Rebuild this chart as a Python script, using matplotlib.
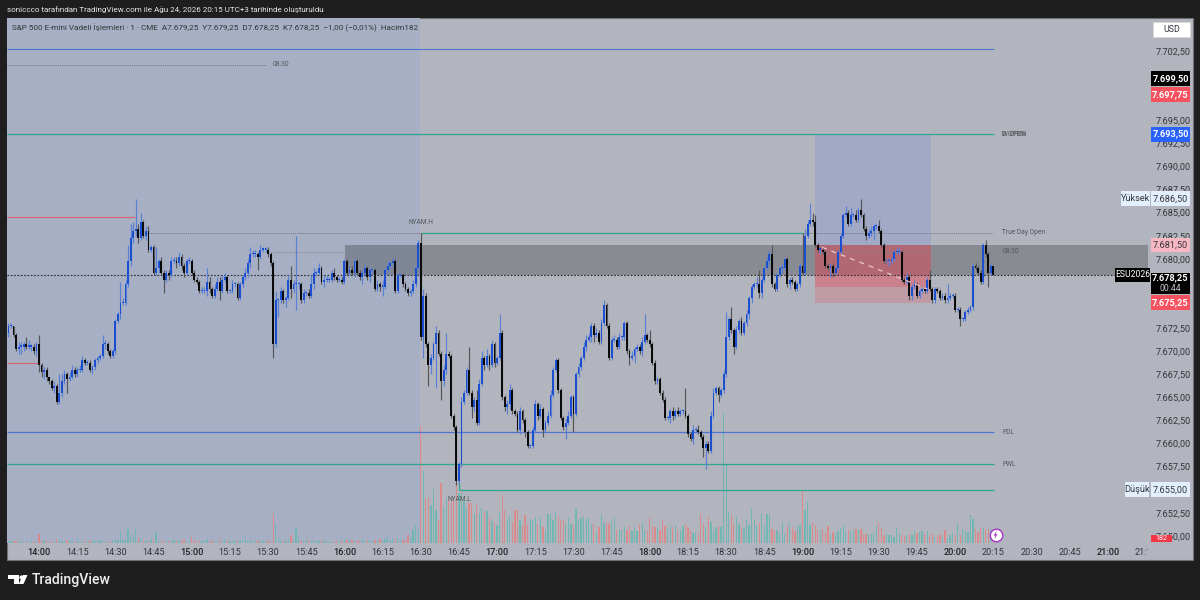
import matplotlib
matplotlib.use('Agg')
import matplotlib.pyplot as plt
import numpy as np
from matplotlib.lines import Line2D
from matplotlib.patches import Polygon, Rectangle
from matplotlib.transforms import Bbox, IdentityTransform

plt.rcParams['font.family'] = ['Roboto', 'DejaVu Sans']

# minutes after 14:00
first_minute = -12
first_open = 7672.0

closes = [
    7672.75, 7672.75, 7671.75, 7670.25, 7670.5, 7670.5, 7670.75, 7670.5, 7670.5, 7670.5,
    7670.0, 7670.75, 7668.5, 7667.75, 7668.0, 7667.25, 7666.75, 7666.0, 7666.25, 7664.5,
    7665.5, 7666.75, 7667.5, 7667.0, 7667.25, 7668.0, 7667.5, 7668.0, 7668.0, 7669.0,
    7668.75, 7668.75, 7668.0, 7668.25, 7669.0, 7669.25, 7669.5, 7670.75, 7670.75, 7670.0,
    7669.5, 7670.0, 7673.25, 7674.0, 7675.25, 7675.25, 7677.25, 7679.75, 7682.25, 7683.0,
    7683.25, 7682.25, 7684.0, 7682.5, 7683.0, 7681.0, 7681.25, 7678.5, 7679.0, 7679.75,
    7678.5, 7677.75, 7678.5, 7678.25, 7679.75, 7679.75, 7679.5, 7680.25, 7679.25, 7678.5,
    7679.75, 7679.75, 7678.5, 7677.75, 7677.5, 7676.5, 7676.5, 7676.5, 7677.5, 7676.75,
    7676.0, 7676.75, 7677.5, 7676.5, 7677.75, 7678.0, 7676.5, 7676.5, 7677.25, 7677.25,
    7675.75, 7677.25, 7678.0, 7678.5, 7679.5, 7680.5, 7680.5, 7680.5, 7680.25, 7681.0,
    7681.0, 7681.0, 7680.5, 7679.5, 7670.75, 7675.5, 7675.5, 7676.5, 7675.5, 7675.75,
    7677.75, 7676.75, 7677.25, 7677.25, 7677.25, 7675.5, 7676.25, 7676.25, 7676.0, 7677.25,
    7678.5, 7678.5, 7679.0, 7677.5, 7677.75, 7677.75, 7677.75, 7678.5, 7678.0, 7677.75,
    7677.75, 7677.5, 7679.75, 7678.5, 7678.75, 7678.5, 7679.75, 7678.5, 7678.0, 7678.5,
    7679.0, 7678.0, 7678.75, 7678.75, 7676.75, 7677.25, 7677.0, 7677.0, 7678.75, 7679.25,
    7679.5, 7679.75, 7676.5, 7678.25, 7678.25, 7677.25, 7676.75, 7676.25, 7676.5, 7677.25,
    7679.0, 7681.75, 7671.5, 7676.0, 7670.75, 7668.5, 7669.25, 7670.75, 7672.0, 7669.75,
    7666.75, 7668.0, 7669.75, 7669.5, 7663.0, 7661.75, 7656.0, 7657.75, 7664.5, 7665.5,
    7668.0, 7665.5, 7664.0, 7664.75, 7662.25, 7666.5, 7669.25, 7668.5, 7669.5, 7668.5,
    7670.75, 7668.75, 7669.25, 7672.0, 7665.0, 7664.0, 7664.25, 7665.75, 7663.5, 7663.25,
    7661.5, 7663.5, 7662.5, 7661.25, 7659.75, 7659.75, 7661.5, 7664.25, 7663.0, 7663.75,
    7661.5, 7662.25, 7663.0, 7665.25, 7668.0, 7669.0, 7665.75, 7662.75, 7661.75, 7662.25,
    7663.0, 7665.0, 7663.25, 7667.5, 7668.25, 7669.25, 7670.5, 7671.25, 7671.5, 7672.75,
    7671.75, 7672.0, 7671.0, 7673.0, 7675.0, 7672.75, 7669.25, 7671.25, 7671.25, 7670.5,
    7671.5, 7671.5, 7673.0, 7670.0, 7669.25, 7669.5, 7670.25, 7670.5, 7670.0, 7671.0,
    7671.75, 7671.25, 7670.75, 7668.75, 7666.75, 7667.0, 7665.5, 7664.75, 7662.75, 7662.75,
    7663.5, 7663.0, 7663.5, 7663.25, 7663.5, 7663.5, 7663.0, 7661.0, 7660.5, 7661.5,
    7661.5, 7661.25, 7660.75, 7659.5, 7660.0, 7659.25, 7663.0, 7665.5, 7666.0, 7665.25,
    7665.75, 7667.5, 7671.5, 7673.5, 7672.25, 7670.5, 7672.25, 7673.25, 7672.0, 7673.0,
    7674.0, 7675.75, 7677.0, 7677.25, 7677.25, 7676.25, 7677.75, 7679.0, 7679.75, 7680.5,
    7677.25, 7676.75, 7678.25, 7679.0, 7679.0, 7680.0, 7677.25, 7677.75, 7677.5, 7676.75,
    7677.25, 7679.25, 7678.5, 7682.5, 7683.75, 7684.25, 7684.0, 7681.5, 7681.0, 7681.0,
    7680.75, 7679.25, 7679.0, 7679.25, 7678.5, 7679.0, 7680.75, 7682.5, 7684.75, 7685.0,
    7683.75, 7684.75, 7684.75, 7684.25, 7685.25, 7684.75, 7683.25, 7682.5, 7682.75, 7683.0,
    7683.5, 7683.5, 7683.0, 7681.5, 7679.75, 7679.75, 7679.75, 7680.0, 7680.75, 7680.75,
    7680.75, 7677.75, 7677.5, 7678.0, 7676.0, 7677.0, 7677.25, 7676.0, 7676.5, 7676.75,
    7676.5, 7677.75, 7676.75, 7675.5, 7676.75, 7676.5, 7675.75, 7676.0, 7675.5, 7675.75,
    7676.0, 7676.0, 7674.5, 7674.5, 7673.5, 7673.5, 7674.25, 7674.5, 7674.75, 7679.25,
    7679.0, 7678.5, 7677.5, 7681.5, 7680.5, 7678.5, 7679.25, 7678.25,
]

wick_up = [
    .25, .25, 0, .25, .5, .5, .25, .75, .75, .25,
    .25, .25, 1.0, .25, .25, .25, 0, .25, .5, .25,
    2.0, .75, .5, .25, .5, .5, .25, .25, .5, .5,
    .25, .25, .25, .25, .25, .25, .25, 1.0, .5, .25,
    .25, .25, .25, .25, 2.25, .5, .5, 1.75, 1.5, 1.0,
    3.25, .5, 1.0, .25, .5, .5, .25, .25, 2.25, .25,
    .5, .25, .25, .25, .5, .5, .5, .5, .25, .25,
    .25, .5, .25, .25, .25, .25, .5, .5, 1.5, .5,
    .25, .5, .5, .5, .5, .5, .25, .25, .5, .25,
    .25, .25, .25, .5, .5, .75, .5, .5, .25, .5,
    .25, .25, .25, .25, .25, 1.0, .25, .5, .25, .25,
    .5, 1.5, .5, 5.25, .25, .25, .5, .25, .5, 1.0,
    .5, .25, .5, .25, .5, .5, .25, .25, .5, .25,
    .25, .25, .25, .25, .5, .5, .25, .25, .25, .25,
    .5, .25, .25, .25, .25, .5, .25, .75, .25, .5,
    .25, .5, .25, .25, .25, .25, .25, .25, .25, .5,
    .25, .25, 1.0, .75, .25, .25, .5, .25, .75, .25,
    .25, .5, 2.25, .25, .25, .25, .25, .25, .5, .25,
    .25, 2.5, .25, .25, 1.0, .5, .75, .25, .75, .25,
    .5, .25, .25, 2.0, .25, .25, .5, .75, .25, .25,
    .25, .5, .25, .25, .25, .25, .25, .5, .25, .5,
    .25, .25, .5, .5, .25, .25, .25, .25, .25, .5,
    .5, .25, .25, .25, .5, .25, .5, .5, .5, .25,
    .25, .5, .25, .5, .5, .25, .25, .25, .5, .25,
    .5, .25, .25, .25, .25, .5, .25, .25, .25, .5,
    2.25, .25, 1.0, .25, .25, .25, .25, .25, .25, .25,
    .25, .5, .25, .5, .25, .25, 2.5, .25, .25, .5,
    .25, .5, .25, .25, .25, .25, .5, .5, .25, .25,
    .25, .5, 2.75, .25, 1.25, .25, .5, .25, .5, .25,
    .5, .25, .25, .25, .75, 1.5, .25, .25, .5, .5,
    1.0, .25, .25, .25, .5, .25, .25, .25, .25, .25,
    .25, .25, 3.5, .75, .5, 1.75, .75, .75, .25, .25,
    .25, .25, .25, .25, .25, .25, .25, .25, .25, .75,
    .25, .75, .25, .5, .25, 1.25, .25, .25, .5, .5,
    .25, .25, .75, .25, .25, .25, .25, .25, .25, .5,
    .5, .25, .25, .5, .25, .25, .5, .25, .25, .25,
    .25, .25, 1.0, .25, .25, .25, .25, .25, .25, 1.5,
    .25, .25, .25, .25, .25, .25, .25, .25, .25, .25,
    .25, .25, .25, .25, .5, .25, .25, 0,
]

wick_dn = [
    .5, .25, .25, .25, .5, .75, .5, .25, .25, .5,
    .25, .5, .75, .5, .75, .5, .25, .25, .5, .25,
    .25, .5, .25, 1.5, .25, .25, .25, .25, .25, .25,
    .25, .25, .25, .5, .25, .25, .25, .25, .5, .25,
    .25, .25, .25, .25, .5, .25, .25, .25, .5, .5,
    .5, .5, .25, .25, .5, .25, .25, .25, .25, .5,
    .25, 1.5, .25, .5, .25, .25, .5, .25, .5, .5,
    .25, .25, .25, .25, .25, .25, .25, .25, .5, .5,
    .25, .25, .25, 1.0, .25, .25, .25, .25, .25, .25,
    .25, .25, .25, .25, .5, .5, .25, .25, 1.5, .25,
    .25, .25, .25, .25, 1.5, .25, 1.75, .25, .25, .75,
    .25, 1.0, .5, 2.75, .5, .25, .25, .25, .25, .25,
    .5, .25, .25, .25, .5, .25, .25, .25, .25, .25,
    .25, .25, .25, .25, .25, .25, .5, .25, .25, .75,
    .25, .25, .5, .25, .25, .25, .5, 1.0, .25, .25,
    .25, .25, .25, .25, .25, .25, .25, .25, .25, .25,
    .25, .25, .25, 2.25, .25, 2.25, 1.0, .25, 4.75, .25,
    2.0, .5, .5, .25, .25, .25, .5, .25, .25, .25,
    .25, .25, 1.25, .5, .25, .25, .25, .5, .25, .5,
    .25, .5, .25, .25, .25, .5, .75, .5, .25, .25,
    .25, .5, .25, .5, .25, .25, .25, .25, .5, .25,
    .75, .25, .25, .25, .25, .25, .25, .25, .25, 1.25,
    .25, .25, 2.0, .25, .25, .25, .25, .5, .25, .5,
    .75, .25, .25, .25, .25, .25, .25, .25, .25, .25,
    .25, .25, .25, .25, .75, .25, .75, .25, .25, .5,
    .25, .25, .25, .25, .25, .25, .25, .25, .25, .25,
    .5, .5, .25, .25, .25, .25, .25, .25, .25, .5,
    .25, .25, .25, 1.0, 2.25, .25, .25, .25, .25, .75,
    .25, .25, .25, .25, .25, .75, .25, .25, .25, .25,
    .25, .5, .5, .25, .25, .5, .5, .25, .25, .5,
    .25, .25, .25, .25, .5, .25, .25, .5, .25, .25,
    .25, .25, .25, .25, .25, .25, .5, .25, .25, .5,
    .25, .25, .25, 1.0, .5, .25, .25, .25, .25, .25,
    .25, .25, .25, .25, .25, .25, .25, .5, .25, .25,
    1.0, .25, .25, .25, .25, .25, .5, .25, .25, .25,
    .25, .25, .25, .25, .5, .5, .25, .25, .25, .25,
    .25, .25, .25, .25, .25, .25, .25, .25, .25, .25,
    .25, .25, .25, .25, .75, .25, .25, .25, .25, .25,
    .25, .25, .25, .25, .25, 1.5, .25, 0,
]

# in lots of 50 contracts, the last bar is the 182 of the legend
volume_lots = [
    2, 2, 2, 2, 2, 2, 1, 1, 1, 3,
    1, 1, 9, 3, 3, 2, 1, 2, 2, 4,
    4, 2, 2, 3, 3, 2, 1, 3, 1, 1,
    2, 2, 2, 3, 2, 2, 3, 1, 2, 1,
    2, 3, 5, 3, 12, 3, 3, 14, 9, 6,
    14, 5, 5, 3, 2, 2, 3, 4, 10, 2,
    2, 2, 2, 2, 2, 3, 2, 3, 3, 3,
    2, 2, 6, 3, 2, 2, 2, 2, 3, 2,
    2, 2, 2, 4, 2, 4, 3, 2, 2, 2,
    3, 3, 3, 6, 2, 3, 2, 2, 2, 1,
    2, 2, 2, 2, 30, 20, 6, 2, 2, 2,
    4, 8, 2, 15, 6, 2, 3, 3, 3, 2,
    3, 2, 2, 3, 2, 2, 1, 1, 2, 2,
    2, 3, 4, 3, 3, 3, 2, 2, 3, 4,
    3, 3, 3, 3, 3, 3, 4, 3, 4, 8,
    3, 4, 4, 5, 4, 3, 3, 8, 5, 13,
    18, 13, 117, 72, 44, 45, 38, 54, 33, 23,
    60, 37, 45, 43, 42, 44, 60, 50, 50, 42,
    35, 40, 40, 30, 38, 30, 35, 30, 32, 25,
    22, 20, 18, 30, 48, 33, 24, 27, 21, 33,
    33, 23, 18, 28, 18, 24, 23, 26, 19, 26,
    16, 13, 29, 29, 23, 32, 26, 23, 24, 19,
    25, 19, 18, 34, 23, 25, 27, 24, 26, 19,
    19, 11, 16, 29, 20, 20, 19, 22, 25, 13,
    13, 13, 16, 13, 17, 12, 16, 12, 19, 21,
    13, 12, 25, 17, 16, 16, 13, 23, 17, 14,
    18, 16, 18, 13, 13, 17, 19, 16, 12, 10,
    11, 9, 29, 19, 16, 27, 21, 12, 16, 17,
    16, 131, 78, 31, 28, 19, 26, 19, 16, 14,
    24, 18, 35, 24, 18, 20, 29, 18, 29, 29,
    14, 13, 13, 10, 21, 9, 17, 21, 16, 12,
    17, 18, 52, 33, 41, 18, 21, 18, 13, 13,
    14, 10, 17, 8, 11, 9, 12, 15, 18, 12,
    13, 11, 13, 14, 13, 14, 9, 9, 9, 9,
    10, 17, 20, 16, 8, 9, 8, 8, 6, 15,
    10, 8, 7, 8, 9, 8, 12, 10, 11, 12,
    9, 12, 8, 9, 6, 8, 8, 6, 13, 5,
    8, 10, 8, 20, 8, 14, 12, 11, 28, 24,
    14, 11, 16, 15, 14, 14, 14, 3.6,
]

time_labels = ['14:00', '14:15', '14:30', '14:45', '15:00', '15:15', '15:30', '15:45',
               '16:00', '16:15', '16:30', '16:45', '17:00', '17:15', '17:30', '17:45',
               '18:00', '18:15', '18:30', '18:45', '19:00', '19:15', '19:30', '19:45',
               '20:00', '20:15', '20:30', '20:45', '21:00', '21:15']

# scale values hidden behind the price tags are left out
price_ticks = [7650, 7652.5, 7657.5, 7660, 7662.5, 7665, 7667.5, 7670, 7672.5, 7680, 7682.5,
               7685, 7687.5, 7690, 7692.5, 7695, 7700, 7702.5]

BLUE_LINE = '#4f74d2'
TEAL_LINE = '#2fa58f'
RED_LINE = '#d9606d'

PX_X0, PX_X1, PX_Y0, PX_Y1 = 7, 1148, 18, 542.7


def fx(x):
    return x / 1200


def fy(y):
    return 1 - y / 600


def axx(x):
    return (x - PX_X0) / (PX_X1 - PX_X0)


def price_label(p):
    whole = int(p)
    return f'{whole // 1000}.{whole % 1000:03d},{int(round((p - whole) * 100)):02d}'


opens = np.array([first_open] + closes[:-1])
closes = np.array(closes)
highs = np.maximum(opens, closes) + np.array(wick_up)
lows = np.minimum(opens, closes) - np.array(wick_dn)
minutes = first_minute + np.arange(len(closes))
is_up = closes >= opens

fig = plt.figure(figsize=(12, 6), dpi=100, facecolor='#1e1e1e')
fig.add_artist(Rectangle((fx(7), fy(560)), fx(1186), 542 / 600, transform=fig.transFigure,
                         facecolor='#b2b5be', edgecolor='#6f7076', lw=0.8))

rect = [fx(PX_X0), fy(PX_Y1), fx(PX_X1 - PX_X0), (PX_Y1 - PX_Y0) / 600]
xlim = ((PX_X0 - 39) / 2.545, (PX_X1 - 39) / 2.545)

vol_ax = fig.add_axes(rect, facecolor='none', zorder=1)
vol_ax.set_xlim(xlim)
vol_ax.set_ylim(0, (PX_Y1 - PX_Y0))
vol_ax.set_xticks([])
vol_ax.set_yticks([])
for side in vol_ax.spines.values():
    side.set_visible(False)
vol_ax.axvspan(xlim[0], 149.7, color='#a6afc3', lw=0)
vol_ax.bar(minutes, volume_lots, width=0.5,
           color=['#70b6b2' if up else '#db8a8c' for up in is_up])

ax = fig.add_axes(rect, facecolor='none', zorder=2)
ax.set_xlim(xlim)
ax.set_ylim(7649.27, 7706.07)
for side in ax.spines.values():
    side.set_visible(False)

# session boxes
ax.fill_between([120.2, xlim[1]], 7678.25, 7681.5, color='black', alpha=0.23, lw=0, zorder=1)
ax.fill_between([305, 350.5], 7681.5, 7693.5, color='#7d8fd8', alpha=0.3, lw=0, zorder=1)
ax.fill_between([305, 350.5], 7675.25, 7681.5, color='#f23645', alpha=0.2, lw=0, zorder=1)
ax.fill_between([305, 350.5], 7677.0, 7681.5, color='#f23645', alpha=0.25, lw=0, zorder=1)
ax.plot([307.7, 349], [7681.25, 7676.75], color='#eec5cc', lw=0.9, ls=(0, (4, 4)), zorder=4)

# levels
ax.hlines(7702.75, xlim[0], 375.3, color=BLUE_LINE, lw=0.8, zorder=2)
ax.hlines(7701.0, xlim[0], 89, color='#77787e', lw=0.7, ls=(0, (1, 1)), zorder=2)
ax.hlines(7693.5, xlim[0], 375.3, color=TEAL_LINE, lw=0.9, zorder=2)
ax.hlines(7684.5, xlim[0], 37.7, color=RED_LINE, lw=0.8, zorder=2)
ax.hlines(7668.75, xlim[0], 0.4, color=RED_LINE, lw=0.8, zorder=2)
ax.hlines(7682.75, 37.7, 375, color='#77787e', lw=0.7, ls=(0, (1, 1)), zorder=2)
ax.hlines(7680.75, 92, 375, color='#85868c', lw=0.7, ls=(0, (1, 1)), zorder=2)
ax.hlines(7682.75, 150, 300.2, color=TEAL_LINE, lw=0.9, zorder=2)
ax.hlines(7661.25, xlim[0], 375.3, color=BLUE_LINE, lw=0.9, zorder=2)
ax.hlines(7657.75, xlim[0], 375.3, color=TEAL_LINE, lw=0.9, zorder=2)
ax.hlines(7655.0, 165, 375.3, color=TEAL_LINE, lw=0.9, zorder=2)
ax.vlines(165, 7655.0, 7656.0, color=TEAL_LINE, lw=0.9, zorder=2)
ax.hlines(7678.25, xlim[0], 435, color='#2b2b2b', lw=0.8, ls=(0, (1.5, 1.5)), zorder=2)

# candles
wick_colors = ['#5c7fd6' if up else '#55565a' for up in is_up]
body_colors = ['#1a4fd0' if up else '#0a0a0a' for up in is_up]
ax.vlines(minutes, lows, highs, colors=wick_colors, lw=0.85, zorder=3)
body_low = np.minimum(opens, closes)
body_height = np.maximum(np.abs(closes - opens), 0.12)
ax.bar(minutes, body_height, bottom=body_low, width=0.72, color=body_colors, lw=0, zorder=3)

# drawing labels
small = dict(fontsize=4.8, color='#55565c', va='center', zorder=6)
ax.text(95, 7701.0, '08:30', ha='center', **small)
ax.text(150, 7683.9, 'NYAM.H', ha='center', **small)
ax.text(165, 7654.0, 'NYAM.L', ha='center', **small)
ax.text(378.5, 7693.5, 'W OPEN', **small)
ax.text(378.5, 7693.5, 'D OPEN', **small)
ax.text(378.5, 7682.85, 'True Day Open', **small)
ax.text(378.5, 7680.75, '08:30', **small)
ax.text(378.5, 7661.25, 'PDL', **small)
ax.text(378.5, 7657.75, 'PWL', **small)

# axes
ax.set_xticks(np.arange(len(time_labels)) * 15)
ax.set_xticklabels(time_labels)
ax.tick_params(axis='x', length=0, pad=3.5, labelsize=6.6, labelcolor='#33343a')
for lab, text in zip(ax.get_xticklabels(), time_labels):
    if text.endswith(':00'):
        lab.set_fontweight('medium')
        lab.set_color('#1f2024')
last_label = ax.get_xticklabels()[-1]
last_label.set_clip_on(True)
last_label.set_clip_box(Bbox([[0, 0], [1148, 600]]))

ax.yaxis.tick_right()
ax.set_yticks(price_ticks)
ax.set_yticklabels([price_label(p) for p in price_ticks])
ax.tick_params(axis='y', length=0, pad=5.8, labelsize=6.6, labelcolor='#33343a')

# price scale tags
trans = ax.get_yaxis_transform()


def tag(price, text, bg, fg='white', x0=1151, x1=1190, h=1.6, size=6.6, weight='normal'):
    ax.add_patch(Rectangle((axx(x0), price - h / 2), axx(x1) - axx(x0), h, transform=trans,
                           facecolor=bg, edgecolor='none', clip_on=False, zorder=10))
    ax.text(axx((x0 + x1) / 2), price, text, transform=trans, color=fg, fontsize=size, ha='center',
            va='center', fontweight=weight, clip_on=False, zorder=11)


tag(7699.5, '7.699,50', '#000000', weight='bold')
tag(7697.75, '7.697,75', '#f7525f', weight='bold')
tag(7693.5, '7.693,50', '#2962ff', weight='bold')
tag(7686.5, '7.686,50', '#e3effd', fg='#33343a')
tag(7686.5, 'Yüksek', '#e3effd', fg='#33343a', x0=1121, x1=1149.5)
tag(7681.5, '7.681,50', '#f7b8c4', fg='#33343a')
tag(7677.35, '', '#000000', h=2.25)
ax.text(axx(1170.5), 7678.0, '7.678,25', transform=trans, color='white', fontsize=6.6, fontweight='bold',
        ha='center', va='center', clip_on=False, zorder=11)
ax.text(axx(1170.5), 7676.75, '00:44', transform=trans, color='#c8c8cc', fontsize=6.2, ha='center',
        va='center', clip_on=False, zorder=11)
tag(7678.25, 'ESU2026', '#000000', x0=1115, x1=1150, size=6.2, h=1.5)
tag(7675.25, '7.675,25', '#f7525f', weight='bold')
tag(7655.0, '7.655,00', '#e3effd', fg='#33343a')
tag(7655.0, 'Düşük', '#e3effd', fg='#33343a', x0=1125, x1=1149.5)
tag(7649.7, '182', '#f23645', x0=1151, x1=1172, h=0.8, size=5.2)

# header and footer text
fig.text(fx(7), fy(9.5), 'soniccco tarafından TradingView.com ile Ağu 24, 2026 20:15 UTC+3 tarihinde oluşturuldu',
         color='#e8e8e8', fontsize=5.72, va='center', zorder=5)
fig.text(fx(12), fy(27.5),
         'S&P 500 E-mini Vadeli İşlemleri · 1 · CME  A7.679,25  Y7.679,25  D7.678,25  K7.678,25  '
         '−1,00 (−0,01%)  Hacim182',
         color='#33343a', fontsize=5.85, va='center', zorder=5)

fig.add_artist(Rectangle((fx(1153), fy(37)), fx(37), 15 / 600, transform=fig.transFigure,
                         facecolor='white', edgecolor='#d8d8dc', lw=0.6, zorder=5))
fig.text(fx(1171.5), fy(29.5), 'USD', color='#33343a', fontsize=6.4, ha='center', va='center', zorder=6)

# bolt marker on the last bar
fig.add_artist(Line2D([fx(995.5)], [fy(535)], marker='o', ms=9, mfc='white', mec='#a63fc4', mew=1.1,
                      transform=fig.transFigure, zorder=7))
fig.add_artist(Polygon([(fx(996.8), fy(530.5)), (fx(993.6), fy(535.6)), (fx(995.4), fy(535.6)),
                        (fx(994.4), fy(539.5)), (fx(997.6), fy(534.2)), (fx(995.8), fy(534.2))],
                       closed=True, facecolor='#a63fc4', edgecolor='none', transform=fig.transFigure, zorder=8))

# TradingView logo
for shape in ([(8, 575), (18.5, 575), (18.5, 584), (14, 584), (14, 579), (8, 579)],
              [(23, 575), (27.5, 575), (23.5, 584), (18.8, 584)]):
    fig.add_artist(Polygon([(fx(a), fy(b)) for a, b in shape], closed=True, facecolor='white',
                           edgecolor='none', transform=fig.transFigure))
fig.add_artist(Line2D([fx(21)], [fy(577)], marker='o', ms=3, mfc='white', mec='none',
                      transform=fig.transFigure))
fig.text(fx(32), fy(580), 'TradingView', color='#f0f0f0', fontsize=10.1, fontweight='medium', va='center')

fig.savefig('out.png', dpi=100, facecolor=fig.get_facecolor())
